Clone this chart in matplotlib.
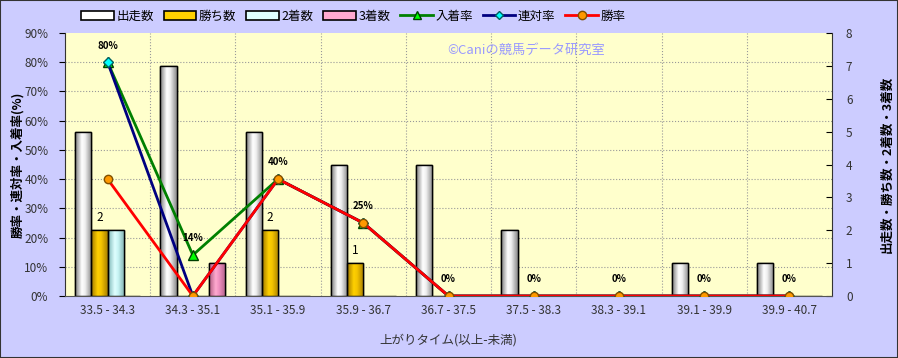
import matplotlib
matplotlib.use("Agg")
import matplotlib.pyplot as plt
import numpy as np
from matplotlib.colors import LinearSegmentedColormap
from matplotlib.patches import Rectangle
from matplotlib.lines import Line2D

plt.rcParams['font.family'] = ['Noto Sans CJK JP', 'DejaVu Sans']

categories = ["33.5 - 34.3", "34.3 - 35.1", "35.1 - 35.9", "35.9 - 36.7", "36.7 - 37.5",
              "37.5 - 38.3", "38.3 - 39.1", "39.1 - 39.9", "39.9 - 40.7"]
runs = [5, 7, 5, 4, 4, 2, 0, 1, 1]
wins = [2, 0, 2, 1, 0, 0, 0, 0, 0]
seconds = [2, 0, 0, 0, 0, 0, 0, 0, 0]
thirds = [0, 1, 0, 0, 0, 0, 0, 0, 0]
place_rate = [80, 14, 40, 25, 0, 0, 0, 0, 0]
quinella_rate = [80, 0, 40, 25, 0, 0, 0, 0, 0]
win_rate = [40, 0, 40, 25, 0, 0, 0, 0, 0]
place_labels = ["80%", "14%", "40%", "25%", "0%", "0%", "0%", "0%", "0%"]

fig = plt.figure(figsize=(8.98, 3.58), dpi=100)
fig.patch.set_facecolor('#CCCCFF')
fig.patches.append(Rectangle((0, 0), 1, 1, transform=fig.transFigure, fill=False,
                             edgecolor='#333333', linewidth=1.5))

ax = fig.add_axes([0.0724, 0.1732, 0.8541, 0.7346])
ax.set_facecolor('#FFFFCC')
ax2 = ax.twinx()
ax.set_zorder(ax2.get_zorder() + 1)
ax.patch.set_visible(False)
ax2.patch.set_visible(True)
ax2.patch.set_facecolor('#FFFFCC')

n = len(categories)
x = np.arange(n)
w = 0.19

bar_series = [
    (runs, -1.5, ['#7a7a7a', '#ffffff', '#f0f0f0', '#8a8a8a'], '出走数'),
    (wins, -0.5, ['#a07800', '#ffd000', '#f5c400', '#a88000'], '勝ち数'),
    (seconds, 0.5, ['#7fb8b8', '#dfffff', '#c8f4f4', '#80b0b0'], '2着数'),
    (thirds, 1.5, ['#b05a80', '#ffaad0', '#f090c0', '#b06088'], '3着数'),
]
handles = []
for vals, off, cols, lab in bar_series:
    cmap = LinearSegmentedColormap.from_list(lab, list(zip([0, 0.4, 0.6, 1], cols)))
    bars = ax2.bar(x + off * w, vals, width=w, color=cols[2], edgecolor='black',
                   linewidth=1.0, zorder=2, label=lab)
    grad = np.linspace(0, 1, 64).reshape(1, -1)
    for b in bars:
        if b.get_height() <= 0:
            continue
        bx, by = b.get_x(), b.get_y()
        im = ax2.imshow(grad, cmap=cmap, aspect='auto', zorder=2.1,
                        extent=[bx, bx + b.get_width(), by, by + b.get_height()])
        im.set_clip_path(b)
        ax2.add_patch(Rectangle((bx, by), b.get_width(), b.get_height(), fill=False,
                                edgecolor='black', linewidth=1.0, zorder=2.2))
    handles.append(Rectangle((0, 0), 1, 1, facecolor=cols[1], edgecolor='black', linewidth=1.2))

for i, v in enumerate(wins):
    if v > 0:
        ax2.text(x[i] - 0.5 * w, v + 0.2, str(v), ha='center', va='bottom', fontsize=8.5,
                 color='black', zorder=3)

ax.plot(x, place_rate, color='#008000', linewidth=2, marker='^', markersize=7,
        markerfacecolor='#00FF00', markeredgecolor='#004000', zorder=4)
ax.plot(x, quinella_rate, color='#000080', linewidth=2, marker='D', markersize=5,
        markerfacecolor='#00FFFF', markeredgecolor='#006060', zorder=5)
ax.plot(x, win_rate, color='#FF0000', linewidth=2, marker='o', markersize=6,
        markerfacecolor='#FF9900', markeredgecolor='#805000', zorder=6)

for i, lab in enumerate(place_labels):
    ax.text(x[i], place_rate[i] + 4, lab, ha='center', va='bottom', fontsize=7,
            fontweight='bold', color='black', zorder=7)

handles += [
    Line2D([], [], color='#008000', linewidth=2, marker='^', markersize=6,
           markerfacecolor='#00FF00', markeredgecolor='#004000'),
    Line2D([], [], color='#000080', linewidth=2, marker='D', markersize=4,
           markerfacecolor='#00FFFF', markeredgecolor='#006060'),
    Line2D([], [], color='#FF0000', linewidth=2, marker='o', markersize=6,
           markerfacecolor='#FF9900', markeredgecolor='#805000'),
]
labels = ['出走数', '勝ち数', '2着数', '3着数', '入着率', '連対率', '勝率']
fig.legend(handles, labels, loc='center left', bbox_to_anchor=(0.085, 0.955), ncol=7,
           frameon=False, fontsize=9, handlelength=2.6, handletextpad=0.2,
           columnspacing=0.8, borderaxespad=0)

ax.set_xlim(-0.5, n - 0.5)
ax2.set_xlim(-0.5, n - 0.5)
ax.set_ylim(0, 90)
ax2.set_ylim(0, 8)
ax.set_yticks(np.arange(0, 91, 10))
ax.set_yticklabels([f"{v}%" for v in range(0, 91, 10)], fontsize=8.5, color='#333333')
ax2.set_yticks(np.arange(0, 9, 1))
ax2.set_yticklabels([str(v) for v in range(9)], fontsize=8.5, color='#333333')
ax.set_xticks(x)
ax.set_xticklabels(categories, fontsize=8.5, color='#333333')
ax.tick_params(axis='x', length=0, pad=6)
ax.tick_params(axis='y', length=4, direction='out', pad=8)
ax2.tick_params(axis='y', length=4, direction='in', pad=10)

for b in np.arange(0.5, n - 0.5, 1):
    ax2.axvline(b, color='#999999', linestyle=':', linewidth=0.8, zorder=1)
for v in np.arange(10, 90, 10):
    ax2.axhline(v / 90 * 8, color='#999999', linestyle=':', linewidth=0.8, zorder=1)

for a in (ax, ax2):
    for s in a.spines.values():
        s.set_visible(False)
ax.spines['left'].set_visible(True)
ax.spines['left'].set_color('#333333')
ax2.spines['right'].set_visible(True)
ax2.spines['right'].set_color('#333333')
ax.spines['bottom'].set_visible(True)
ax.spines['bottom'].set_color('#555555')

ax.set_ylabel('勝率・連対率・入着率(%)', fontsize=9, fontweight='bold', labelpad=0)
ax2.set_ylabel('出走数・勝ち数・2着数・3着数', fontsize=9, fontweight='bold', labelpad=20)
ax.set_xlabel('上がりタイム(以上-未満)', fontsize=9, color='#333333', labelpad=12)

fig.text(0.498, 0.858, '©Caniの競馬データ研究室', fontsize=9.5, color='#9999FF',
         ha='left', va='center')

fig.savefig('out.png', dpi=100, facecolor=fig.get_facecolor())
